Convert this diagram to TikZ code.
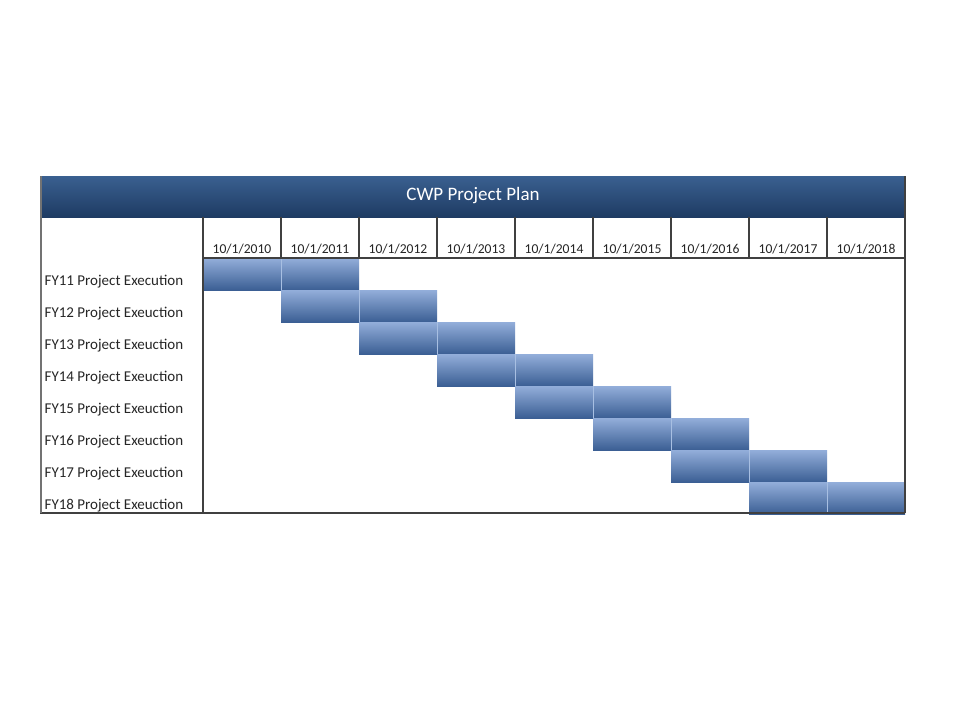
\documentclass[tikz,border=0pt]{standalone}
\usepackage{fontspec}
\setmainfont{Carlito}
\begin{document}
\begin{tikzpicture}[x=1pt,y=-1pt,
  gridline/.style={draw=black!75,line width=1.3pt},
  cellbar/.style={top color=barTop,bottom color=barBot},
  cellsep/.style={draw=barEdge,line width=0.9pt},
  datelabel/.style={font=\fontsize{13.6}{14}\selectfont,anchor=base,text=black!85,inner sep=0pt},
  rowlabel/.style={font=\fontsize{15}{16}\selectfont,anchor=base west,text=black!85,inner sep=0pt},
  titletext/.style={font=\fontsize{19}{21}\selectfont,text=white}]
\definecolor{barTop}{HTML}{93AEDA}
\definecolor{barBot}{HTML}{3B5F94}
\definecolor{barEdge}{HTML}{A8BFE2}
\definecolor{hdrTop}{HTML}{3A6090}
\definecolor{hdrBot}{HTML}{1E3B63}
\useasboundingbox (0,0) rectangle (960,720);
\fill[white] (0,0) rectangle (960,720);

% title bar
\shade[top color=hdrTop,bottom color=hdrBot] (40,176) rectangle (905,217);
\node[titletext] (title) at (473,196) {CWP Project Plan};

% Gantt bars: each row spans two yearly cells
\foreach \r in {0,...,7}{
  \foreach \c in {\r,\numexpr\r+1\relax}{
    \shade[cellbar] ({203+78*\c},{258+32*\r}) rectangle ({281+78*\c},{290+32*\r});
  }
  \draw[cellsep] ({281+78*\r},{258+32*\r}) -- ({281+78*\r},{290+32*\r});
}

% header grid with dates
\foreach \c/\yr in {0/2010,1/2011,2/2012,3/2013,4/2014,5/2015,6/2016,7/2017,8/2018}{
  \node[datelabel] (d\yr) at ({242+78*\c},253) {10/1/\yr};
  \draw[gridline] ({203+78*\c},217) -- ({203+78*\c},258);
}
\draw[gridline] (203,258) -- (905,258);
\draw[gridline] (203,217) -- (203,513);
\draw[gridline] (905,176) -- (905,513);
\draw[gridline] (40,513) -- (905,513);
\draw[draw=black!55,line width=2pt] (41,176) -- (41,513);

% row labels
\node[rowlabel] (fy11) at (44.5,285) {FY11 Project Execution};
\foreach \n in {12,...,18}{
  \node[rowlabel] (fy\n) at (44.5,{285+32*(\n-11)}) {FY\n\ Project Exeuction};
}
\end{tikzpicture}
\end{document}
